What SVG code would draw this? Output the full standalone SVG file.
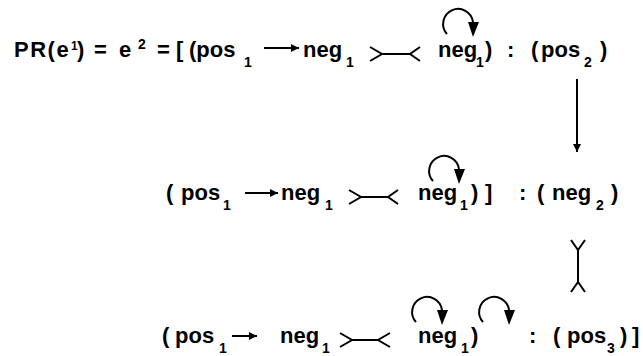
<svg xmlns="http://www.w3.org/2000/svg" width="643" height="356" viewBox="0 0 643 356">
<defs>
<style>
text{font-family:"Liberation Sans",Arial,sans-serif;font-weight:bold;fill:#000}
.t{font-size:22px}
.s{font-size:14px}
.u{font-size:12px}
.ln{stroke:#000;stroke-width:2;fill:none}
.hd{fill:#000;stroke:none}
</style>
<marker id="ah" viewBox="0 0 10 10" refX="10" refY="5" markerWidth="10" markerHeight="8" markerUnits="userSpaceOnUse" orient="auto"><path d="M0,0 L10,5 L0,10 z" fill="#000"/></marker>
</defs>
<rect width="643" height="356" fill="#fff"/>
<g id="row1">
<text class="t" x="14" y="57" letter-spacing="1.5">PR(e</text>
<text class="u" x="71" y="50">1</text>
<text class="t" x="77" y="57">)</text>
<text class="t" x="94" y="57">=</text>
<text class="t" x="119" y="57">e</text>
<text class="s" x="138" y="49">2</text>
<text class="t" x="157" y="57">=</text>
<text class="t" x="176" y="57">[</text>
<text class="t" x="189" y="57">(pos</text>
<text class="s" x="244" y="67">1</text>
<text class="t" x="303" y="57">neg</text>
<text class="s" x="346" y="67">1</text>
<text class="t" x="438" y="57">neg</text>
<text class="s" x="476" y="67">1</text>
<text class="t" x="485" y="57">)</text>
<text class="t" x="507" y="57">:</text>
<text class="t" x="531" y="57">(</text>
<text class="t" x="541" y="57">pos</text>
<text class="s" x="584" y="67">2</text>
<text class="t" x="600" y="57">)</text>
</g>
<g id="row2">
<text class="t" x="166" y="200">(</text>
<text class="t" x="181" y="200">pos</text>
<text class="s" x="223" y="210">1</text>
<text class="t" x="281" y="200">neg</text>
<text class="s" x="325" y="210">1</text>
<text class="t" x="418" y="200">neg</text>
<text class="s" x="460" y="210">1</text>
<text class="t" x="471" y="200">)</text>
<text class="t" x="485" y="200">]</text>
<text class="t" x="519" y="200">:</text>
<text class="t" x="537" y="200">(</text>
<text class="t" x="552" y="200">neg</text>
<text class="s" x="596" y="210">2</text>
<text class="t" x="611" y="200">)</text>
</g>
<g id="row3">
<text class="t" x="162" y="343">(</text>
<text class="t" x="175" y="343">pos</text>
<text class="s" x="219" y="353">1</text>
<text class="t" x="280" y="343">neg</text>
<text class="s" x="322" y="353">1</text>
<text class="t" x="418" y="343">neg</text>
<text class="s" x="461" y="353">1</text>
<text class="t" x="471" y="343">)</text>
<text class="t" x="529" y="343">:</text>
<text class="t" x="553" y="343">(</text>
<text class="t" x="567" y="343">pos</text>
<text class="s" x="607" y="353">3</text>
<text class="t" x="620" y="343">)</text>
<text class="t" x="632" y="343">]</text>
</g>
<g id="connectors">
<line class="ln" x1="264" y1="48" x2="299" y2="48" marker-end="url(#ah)"/>
<line class="ln" x1="245" y1="193" x2="278" y2="193" marker-end="url(#ah)"/>
<line class="ln" x1="232" y1="336" x2="257" y2="336" marker-end="url(#ah)"/>
<path class="ln" d="M370,47 L382,54 L370,61 M382,54 L410,54 M420,47 L410,54 L420,61"/>
<path class="ln" d="M349,190 L361,197 L349,204 M361,197 L388,197 M398,190 L388,197 L398,204"/>
<path class="ln" d="M340,333 L352,340 L340,347 M352,340 L378,340 M390,333 L378,340 L390,347"/>
<path class="ln" d="M447,34 A15,15 0 1,1 473,22"/>
<path class="hd" d="M468,22 L479,22 L473,37 z"/>
<path class="ln" d="M433,181 A15,15 0 1,1 459,169"/>
<path class="hd" d="M454,169 L465,169 L459,184 z"/>
<path class="ln" d="M416,322 A15,15 0 1,1 442,310"/>
<path class="hd" d="M437,310 L448,310 L442,325 z"/>
<path class="ln" d="M483,322 A15,15 0 1,1 509,310"/>
<path class="hd" d="M504,310 L515,310 L509,325 z"/>
<line class="ln" x1="577" y1="79" x2="577" y2="152" marker-end="url(#ah)"/>
<path class="ln" d="M571,240 L578,250 L585,240 M578,250 L578,282 M571,292 L578,282 L585,292"/>
</g>
</svg>
